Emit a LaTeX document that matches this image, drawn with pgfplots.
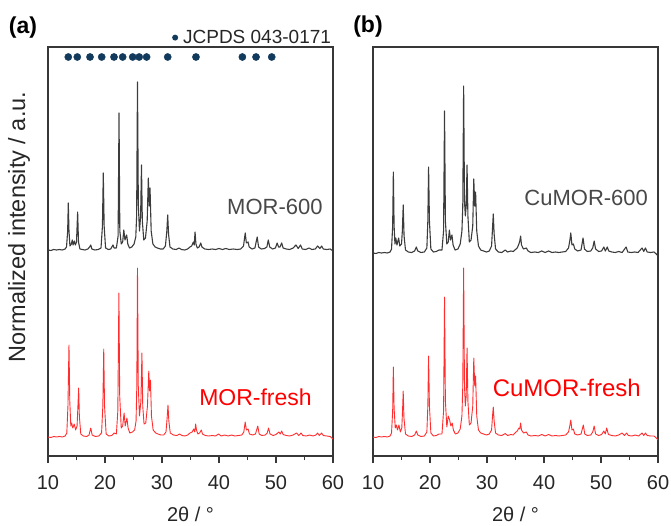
\documentclass[border=0pt]{standalone}
\usepackage{fontspec}
\setmainfont{Liberation Sans}
\usepackage{pgfplots}
\pgfplotsset{compat=1.18}

\definecolor{axisgray}{RGB}{55,55,55}
\definecolor{specgray}{RGB}{60,60,60}
\definecolor{labelgray}{RGB}{72,72,72}
\definecolor{specred}{RGB}{255,45,45}
\definecolor{dotnavy}{RGB}{18,58,92}

\newcommand{\sz}[1]{\fontsize{#1}{#1}\selectfont}

\pgfplotsset{
  panel/.style={
    anchor=south west, scale only axis,
    width=285pt, height=409pt,
    xmin=10, xmax=60, ymin=0, ymax=409,
    xtick={10,20,...,60}, minor xtick={15,25,...,55},
    ytick=\empty,
    tick align=outside, xtick pos=lower,
    major tick length=7pt, minor tick length=4pt,
    axis line style={draw=axisgray, line width=1.3pt},
    every tick/.style={draw=axisgray, line width=1.1pt},
    tick label style={font=\sz{20}, text=black!85},
    xticklabel style={yshift=-9pt},
    /pgf/number format/assume math mode=true,
    xlabel={2θ / °},
    xlabel style={at={(axis description cs:0.5,0)}, anchor=base, yshift=-65pt, font=\sz{20}, text=black!85},
  },
  gray spec/.style={forget plot, color=specgray, line width=1.1pt, line join=round},
  red spec/.style={forget plot, color=specred, line width=0.9pt, line join=round},
}

\begin{document}
\begin{tikzpicture}
\useasboundingbox (0,0) rectangle (671pt,525pt);

% ---------------- panel (a): MOR ----------------
\begin{axis}[panel, at={(48pt,69pt)},
  legend style={at={(axis description cs:1,1)}, anchor=south east,
    draw=none, fill=none, inner sep=0pt, outer sep=0pt,
    font=\sz{19}, text=black!85},
  legend cell align=left,
  legend image code/.code={%
    \fill[dotnavy, draw=none] (0pt,0pt) circle (3pt);
    \path[draw=none, fill=none] (0pt,0pt) -- (6pt,0pt);},
]
% reference pattern positions
\addplot[only marks, mark=*, mark size=3.6pt, color=dotnavy] coordinates {
(13.56,399) (15.14,399) (17.37,399) (19.42,399) (21.58,399) (23.1,399)
(24.86,399) (26.0,399) (27.3,399) (31.0,399) (35.96,399) (44.1,399)
(46.5,399) (49.25,399)};
\addlegendentry{JCPDS 043-0171}

% MOR-600
\addplot[gray spec] coordinates {
(10,206) (10.5,205.5) (11,206.5) (11.5,206) (12,206.5) (12.5,206) (13,207)
(13.25,209) (13.45,225) (13.56,253) (13.68,225) (13.85,210) (14.1,212)
(14.25,216) (14.4,211) (14.6,215) (14.8,211) (15.0,214) (15.2,244) (15.35,214)
(15.6,207) (16,206.5) (16.5,206) (17,207) (17.3,209) (17.5,211) (17.7,207)
(18.2,206) (18.8,206.5) (19.3,208) (19.55,230) (19.7,283) (19.85,230)
(20.1,208) (20.6,206.5) (21,207) (21.4,211) (21.6,208) (22.0,208) (22.3,220)
(22.46,343) (22.6,225) (22.85,212) (23.1,214) (23.3,226) (23.5,216) (23.8,221)
(24.0,212) (24.3,208) (24.7,209) (25.1,212) (25.4,219) (25.55,240) (25.7,374)
(25.85,250) (26.05,225) (26.25,240) (26.4,291) (26.55,235) (26.8,216)
(27.1,218) (27.4,235) (27.6,278) (27.75,250) (27.9,268) (28.1,225) (28.4,212)
(28.8,209) (29.2,208) (29.7,207) (30.2,207) (30.6,210) (30.85,225) (31.0,241)
(31.15,222) (31.4,209) (31.9,207) (32.5,206.5) (33,208) (33.4,206.5) (34,206)
(34.5,207) (34.9,209) (35.2,210) (35.5,214) (35.65,211) (35.8,224) (35.95,212)
(36.2,208) (36.5,209) (36.8,213) (37.0,209) (37.5,207) (38.2,206.5) (38.8,207)
(39.4,206.5) (40.0,207.5) (40.6,206.5) (41.2,207.5) (41.8,206.5) (42.5,207)
(43.2,206.5) (43.8,207) (44.3,210) (44.6,223) (44.8,213) (45.1,214) (45.3,209)
(45.8,207) (46.3,208) (46.7,219) (46.95,209) (47.4,207) (48.0,207.5) (48.4,209)
(48.65,216) (48.9,209) (49.4,207) (49.9,208) (50.2,213) (50.45,209) (50.7,209)
(51.0,213) (51.25,208) (51.8,207) (52.4,206.5) (53.0,208) (53.5,211)
(53.9,207.5) (54.3,211) (54.6,207) (55.2,206.5) (55.8,208) (56.3,206.5)
(56.9,207) (57.3,210) (57.7,207.5) (58.0,210) (58.3,207) (58.9,206.5)
(59.5,207) (60,205)};

% MOR-fresh
\addplot[red spec] coordinates {
(10,19) (10.5,18.5) (11,19.5) (11.5,19) (12,19.5) (12.5,19) (13,20) (13.3,23)
(13.5,50) (13.68,111) (13.82,55) (14.0,30) (14.15,33) (14.35,28) (14.6,32)
(14.85,26) (15.1,30) (15.25,50) (15.38,68) (15.5,40) (15.75,22) (16.2,20)
(16.8,19.5) (17.2,21) (17.5,28) (17.75,21) (18.3,19.5) (18.9,20) (19.4,23)
(19.62,50) (19.78,107) (19.92,50) (20.2,22) (20.7,20) (21.2,20.5) (21.6,23)
(22.0,22) (22.25,45) (22.44,163) (22.58,60) (22.85,28) (23.1,30) (23.35,43)
(23.55,30) (23.85,38) (24.05,28) (24.35,23) (24.8,24) (25.2,26) (25.45,35)
(25.58,70) (25.7,188) (25.84,70) (26.05,40) (26.3,55) (26.48,103) (26.62,50)
(26.85,32) (27.15,33) (27.45,50) (27.68,85) (27.82,65) (27.98,76) (28.15,40)
(28.45,26) (28.9,23) (29.3,22) (29.8,21) (30.3,21) (30.7,24) (30.9,38)
(31.05,51) (31.2,35) (31.45,23) (32,21) (32.6,20.5) (33.1,22) (33.5,20.5)
(34.0,20) (34.5,21) (34.9,23) (35.3,24) (35.55,27) (35.75,24) (35.9,32)
(36.05,26) (36.3,22) (36.6,23) (36.9,26) (37.1,22) (37.6,20.5) (38.2,20)
(38.8,20.5) (39.4,20) (39.9,22) (40.4,20) (41.0,21) (41.6,20) (42.2,21)
(42.8,20) (43.4,20.5) (44.0,21) (44.35,24) (44.6,34) (44.8,26) (45.1,27)
(45.35,22) (45.9,21) (46.4,22) (46.8,30) (47.05,22) (47.5,20.5) (48.1,21)
(48.45,23) (48.7,28) (48.95,22) (49.5,20.5) (50.0,21.5) (50.5,24) (50.75,22)
(51.0,25) (51.25,21.5) (51.8,20.5) (52.4,20) (53.0,21) (53.6,23) (54.0,20.5)
(54.4,23) (54.7,20.5) (55.3,20) (55.9,21) (56.5,20) (57.0,21) (57.3,23)
(57.6,20.5) (58.0,23) (58.3,20.5) (58.9,20) (59.5,19.5) (59.8,18) (60,17)};

\node[font=\sz{22}, text=labelgray] at (axis cs:49.8,249) {MOR-600};
\node[font=\sz{23}, text=red] at (axis cs:46.4,59) {MOR-fresh};
\end{axis}

% ---------------- panel (b): CuMOR ----------------
\begin{axis}[panel, at={(373pt,69pt)}]
% CuMOR-600
\addplot[gray spec] coordinates {
(10,203) (10.5,202.5) (11,203.5) (11.5,203) (12,203.5) (12.5,203) (13,204)
(13.25,207) (13.45,230) (13.57,284) (13.7,230) (13.85,212) (14.0,218)
(14.2,211) (14.5,218) (14.7,210) (15.0,212) (15.15,225) (15.3,251) (15.45,220)
(15.7,206) (16.2,204) (16.8,203.5) (17.3,205) (17.6,209) (17.85,205)
(18.4,203.5) (19.0,204) (19.45,208) (19.62,235) (19.75,289) (19.9,235)
(20.15,207) (20.6,204) (21.1,204.5) (21.6,206) (22.1,206) (22.38,225)
(22.55,345) (22.7,235) (22.95,212) (23.2,214) (23.4,226) (23.6,216)
(23.85,221) (24.05,211) (24.4,206) (24.9,207) (25.3,212) (25.6,225)
(25.75,250) (25.9,370) (26.05,255) (26.2,240) (26.35,250) (26.5,291)
(26.65,240) (26.9,214) (27.2,216) (27.5,230) (27.68,277) (27.85,250)
(28.0,264) (28.2,225) (28.5,210) (28.9,206) (29.4,205) (29.9,204) (30.4,205)
(30.8,210) (30.97,228) (31.1,242) (31.25,222) (31.5,207) (32.0,204)
(32.6,203.5) (33.2,206) (33.6,204) (34.2,205) (34.6,204.5) (34.9,206)
(35.3,208) (35.6,212) (35.75,215) (35.9,220) (36.05,211) (36.4,207)
(36.9,208) (37.2,205) (37.7,203.5) (38.4,204) (39.0,203.5) (39.6,205)
(40.2,203.5) (40.8,205) (41.4,203.5) (42.0,204) (42.6,203.5) (43.2,204)
(43.8,204.5) (44.3,208) (44.52,215) (44.7,223) (44.9,211) (45.15,212)
(45.4,207) (45.9,205) (46.5,206) (46.85,218) (47.1,207) (47.6,204.5)
(48.2,205) (48.55,208) (48.8,215) (49.05,207) (49.6,204.5) (50.1,205)
(50.5,209) (50.75,205) (51.1,209) (51.35,205) (51.9,204) (52.5,203.5)
(53.1,204.5) (53.7,203.5) (54.4,209) (54.7,204) (55.3,203.5) (55.9,204)
(56.5,203.5) (57.2,208) (57.5,204.5) (57.8,208) (58.1,204) (58.7,203.5)
(59.3,204) (59.7,202) (60,200)};

% CuMOR-fresh
\addplot[red spec] coordinates {
(10,19) (10.5,18.5) (11,19.5) (11.5,19) (12,19.5) (12.5,19) (13,20)
(13.25,23) (13.45,45) (13.57,89) (13.7,48) (13.9,28) (14.1,31) (14.3,26)
(14.55,31) (14.8,24) (15.05,28) (15.18,45) (15.3,65) (15.43,38) (15.7,22)
(16.2,20) (16.8,19.5) (17.3,21) (17.6,25) (17.85,21) (18.4,19.5) (19.0,20)
(19.45,24) (19.62,50) (19.75,100) (19.9,50) (20.15,23) (20.6,20) (21.1,20.5)
(21.6,22) (22.1,22) (22.38,45) (22.55,159) (22.7,55) (22.95,29) (23.2,40)
(23.45,36) (23.65,30) (23.9,33) (24.1,26) (24.45,22) (24.9,23) (25.3,27)
(25.6,40) (25.75,70) (25.9,188) (26.05,70) (26.2,50) (26.35,60) (26.5,108)
(26.65,55) (26.9,31) (27.2,33) (27.5,50) (27.68,98) (27.85,70) (28.0,80)
(28.2,40) (28.5,26) (28.9,23) (29.4,22) (29.9,21) (30.4,22) (30.8,26)
(30.97,40) (31.1,49) (31.25,35) (31.5,23) (32.0,21) (32.6,20.5) (33.2,22.5)
(33.6,20.5) (34.2,21.5) (34.6,21) (34.9,23) (35.3,25) (35.6,28) (35.75,27)
(35.9,33) (36.05,26) (36.4,23) (36.9,24) (37.2,21) (37.7,20) (38.4,20.5)
(39.0,20) (39.6,21.5) (40.2,20) (40.8,21.5) (41.4,20) (42.0,20.5) (42.6,20)
(43.2,20.5) (43.8,21) (44.3,24) (44.52,30) (44.7,36) (44.9,26) (45.15,27)
(45.4,22) (45.9,21) (46.5,22) (46.9,31) (47.15,22) (47.6,20.5) (48.2,21)
(48.55,24) (48.8,30) (49.05,22) (49.6,20.5) (50.1,21.5) (50.5,25) (50.75,22)
(51.0,28) (51.3,21.5) (51.9,20.5) (52.5,20) (53.1,21) (53.7,23) (54.1,20.5)
(54.5,23) (54.8,20.5) (55.4,20) (56.0,21) (56.6,20) (57.2,23) (57.5,20.5)
(57.8,23) (58.1,20.5) (58.7,20) (59.3,20) (59.7,18) (60,16)};

\node[font=\sz{22}, text=labelgray] at (axis cs:47.4,258) {CuMOR-600};
\node[font=\sz{24}, text=red] at (axis cs:44.0,68) {CuMOR-fresh};
\end{axis}

% shared y label and panel tags
\node[rotate=90, font=\sz{23.5}, text=black!85] at (19pt,298pt) {Normalized intensity / a.u.};
\node[font=\bfseries\sz{23}] at (23pt,497pt) {(a)};
\node[font=\bfseries\sz{23}] at (368pt,498pt) {(b)};
\end{tikzpicture}
\end{document}
